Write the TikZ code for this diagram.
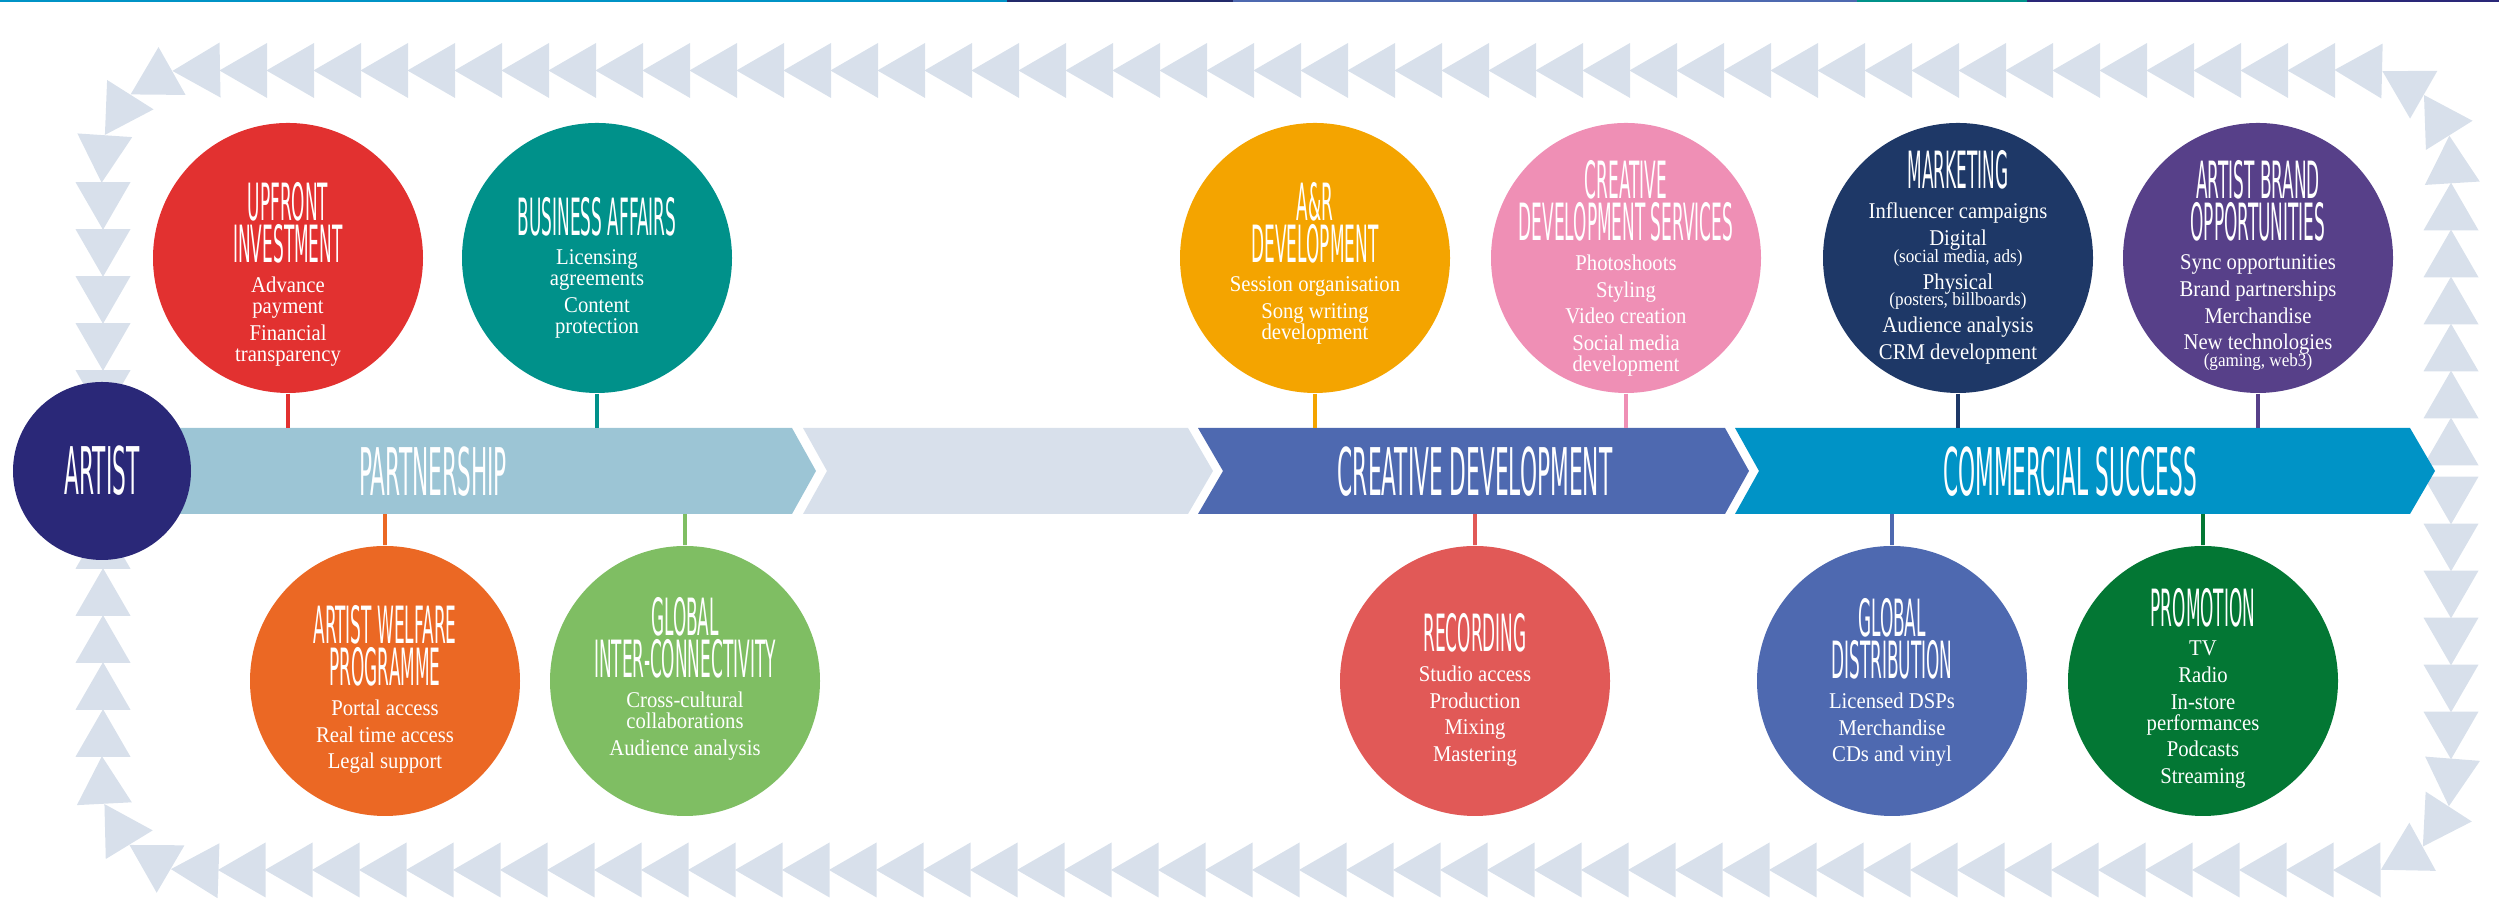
\documentclass[tikz,border=0pt]{standalone}
\usepackage{fontspec}
\setmainfont{Liberation Serif}[FakeStretch=0.92]
\newfontfamily\headfont{DejaVu Sans}[FakeStretch=0.33]
\usetikzlibrary{positioning,decorations.markings}

\definecolor{cArtist}{RGB}{42,40,120}
\definecolor{cPartner}{RGB}{156,197,213}
\definecolor{cPale}{RGB}{216,224,235}
\definecolor{cCreative}{RGB}{78,105,176}
\definecolor{cCommercial}{RGB}{0,147,198}
\definecolor{cRed}{RGB}{226,49,48}
\definecolor{cTeal}{RGB}{0,145,138}
\definecolor{cOrange}{RGB}{235,104,36}
\definecolor{cLime}{RGB}{127,190,99}
\definecolor{cAmber}{RGB}{244,164,0}
\definecolor{cPink}{RGB}{239,143,181}
\definecolor{cNavy}{RGB}{30,56,103}
\definecolor{cPurple}{RGB}{87,64,137}
\definecolor{cCoral}{RGB}{225,89,87}
\definecolor{cForest}{RGB}{3,119,52}
\definecolor{cDeep}{RGB}{35,42,107}
\definecolor{cSea}{RGB}{0,146,138}

\tikzset{
  disc/.style={circle, minimum size=2.7cm, inner sep=0pt},
  head/.style={text=white, align=center, inner sep=0pt, anchor=north,
    font=\headfont\fontsize{14.6}{11.9}\selectfont},
  items/.style={text=white, align=center, inner sep=0pt, node distance=0.12cm,
    font=\fontsize{6.4}{6}\selectfont},
  barlabel/.style={text=white, inner sep=0pt, font=\headfont\fontsize{18.7}{18}\selectfont},
  stalk/.style={line width=1.4pt},
  arrowrow/.style={decorate, decoration={markings,
    mark=between positions 0.235cm and 1 step 0.47cm with
    {\fill[cPale, sharp corners] (0.238,0) -- (-0.238,0.275) -- (-0.238,-0.275) -- cycle;}}}
}
\newcommand{\sm}[1]{{\fontsize{5.3}{5}\selectfont #1}}

\begin{document}
\begin{tikzpicture}
    \useasboundingbox (0,0) rectangle (24.99,8.99);

    % 顶部色条
    \fill[cCommercial] (0,8.97) rectangle (10.07,8.99);
    \fill[cDeep] (10.07,8.97) rectangle (12.33,8.99);
    \fill[cCreative] (12.33,8.97) rectangle (18.57,8.99);
    \fill[cSea] (18.57,8.97) rectangle (20.27,8.99);
    \fill[cArtist] (20.27,8.97) rectangle (24.99,8.99);

    % 三角形回路
    \path[arrowrow] (24.51,4.34) [rounded corners=0.95cm] -- (24.51,8.285) -- (1.03,8.285) -- (1.03,4.5);
    \path[arrowrow] (24.51,4.22) [rounded corners=0.95cm] -- (24.51,0.29) -- (1.03,0.29) -- (1.03,4.0);

    % 时间轴
    \fill[cPartner] (1.0,4.71) -- (7.92,4.71) -- (8.16,4.28) -- (7.92,3.85) -- (1.0,3.85) -- cycle;
    \fill[cPale] (8.03,4.71) -- (11.88,4.71) -- (12.13,4.28) -- (11.88,3.85) -- (8.03,3.85) -- (8.27,4.28) -- cycle;
    \fill[cCreative] (11.98,4.71) -- (17.25,4.71) -- (17.49,4.28) -- (17.25,3.85) -- (11.98,3.85) -- (12.23,4.28) -- cycle;
    \fill[cCommercial] (17.35,4.71) -- (24.10,4.71) -- (24.35,4.28) -- (24.10,3.85) -- (17.35,3.85) -- (17.59,4.28) -- cycle;
    \coordinate (bartop) at (0,4.71);
    \coordinate (barbot) at (0,3.85);

    \node[barlabel] (partnership) at (4.33,4.27) {PARTNERSHIP};
    \node[barlabel] (creative) at (14.75,4.27) {CREATIVE DEVELOPMENT};
    \node[barlabel] (commercial) at (20.70,4.27) {COMMERCIAL SUCCESS};

    % 艺人
    \node[disc, barlabel, fill=cArtist, minimum size=1.78cm] (artist) at (1.02,4.28) {ARTIST};

    % 上方圆
    \node[disc, fill=cRed] (upfront) at (2.88,6.41) {};
    \node[disc, fill=cTeal] (business) at (5.97,6.41) {};
    \node[disc, fill=cAmber] (anr) at (13.15,6.41) {};
    \node[disc, fill=cPink] (services) at (16.26,6.41) {};
    \node[disc, fill=cNavy] (marketing) at (19.58,6.41) {};
    \node[disc, fill=cPurple] (brand) at (22.58,6.41) {};

    % 下方圆
    \node[disc, fill=cOrange] (welfare) at (3.85,2.18) {};
    \node[disc, fill=cLime] (global) at (6.85,2.18) {};
    \node[disc, fill=cCoral] (recording) at (14.75,2.18) {};
    \node[disc, fill=cCreative] (distribution) at (18.92,2.18) {};
    \node[disc, fill=cForest] (promotion) at (22.03,2.18) {};

    % 连接线
    \draw[stalk, cRed] (upfront.south) -- (upfront.south |- bartop);
    \draw[stalk, cTeal] (business.south) -- (business.south |- bartop);
    \draw[stalk, cAmber] (anr.south) -- (anr.south |- bartop);
    \draw[stalk, cPink] (services.south) -- (services.south |- bartop);
    \draw[stalk, cNavy] (marketing.south) -- (marketing.south |- bartop);
    \draw[stalk, cPurple] (brand.south) -- (brand.south |- bartop);
    \draw[stalk, cOrange] (welfare.north) -- (welfare.north |- barbot);
    \draw[stalk, cLime] (global.north) -- (global.north |- barbot);
    \draw[stalk, cCoral] (recording.north) -- (recording.north |- barbot);
    \draw[stalk, cCreative] (distribution.north) -- (distribution.north |- barbot);
    \draw[stalk, cForest] (promotion.north) -- (promotion.north |- barbot);

    % 文字
    \node[head] (upfront-h) at (2.88,7.17) {UPFRONT\\INVESTMENT};
    \node[items, below=of upfront-h] (upfront-l) {Advance\\payment\\[1.6pt]Financial\\transparency};

    \node[head] (business-h) at (5.97,7.02) {BUSINESS AFFAIRS};
    \node[items, below=of business-h] (business-l) {Licensing\\agreements\\[1.6pt]Content\\protection};

    \node[head] (anr-h) at (13.15,7.17) {A\&R\\DEVELOPMENT};
    \node[items, below=of anr-h] (anr-l) {Session organisation\\[1.6pt]Song writing\\development};

    \node[head] (services-h) at (16.26,7.39) {CREATIVE\\DEVELOPMENT SERVICES};
    \node[items, below=of services-h] (services-l) {Photoshoots\\[1.6pt]Styling\\[1.6pt]Video creation\\[1.6pt]Social media\\development};

    \node[head] (marketing-h) at (19.58,7.49) {MARKETING};
    \node[items, below=of marketing-h] (marketing-l) {Influencer campaigns\\[1.6pt]Digital\\[-1.2pt]\sm{(social media, ads)}\\[1.6pt]Physical\\[-1.2pt]\sm{(posters, billboards)}\\[1.6pt]Audience analysis\\[1.6pt]CRM development};

    \node[head] (brand-h) at (22.58,7.39) {ARTIST BRAND\\OPPORTUNITIES};
    \node[items, below=of brand-h] (brand-l) {Sync opportunities\\[1.6pt]Brand partnerships\\[1.6pt]Merchandise\\[1.6pt]New technologies\\[-1.2pt]\sm{(gaming, web3)}};

    \node[head] (welfare-h) at (3.85,2.94) {ARTIST WELFARE\\PROGRAMME};
    \node[items, below=of welfare-h] (welfare-l) {Portal access\\[1.6pt]Real time access\\[1.6pt]Legal support};

    \node[head] (global-h) at (6.85,3.02) {GLOBAL\\INTER-CONNECTIVITY};
    \node[items, below=of global-h] (global-l) {Cross-cultural\\collaborations\\[1.6pt]Audience analysis};

    \node[head] (recording-h) at (14.75,2.86) {RECORDING};
    \node[items, below=of recording-h] (recording-l) {Studio access\\[1.6pt]Production\\[1.6pt]Mixing\\[1.6pt]Mastering};

    \node[head] (distribution-h) at (18.92,3.01) {GLOBAL\\DISTRIBUTION};
    \node[items, below=of distribution-h] (distribution-l) {Licensed DSPs\\[1.6pt]Merchandise\\[1.6pt]CDs and vinyl};

    \node[head] (promotion-h) at (22.03,3.11) {PROMOTION};
    \node[items, below=of promotion-h] (promotion-l) {TV\\[1.6pt]Radio\\[1.6pt]In-store\\performances\\[1.6pt]Podcasts\\[1.6pt]Streaming};
\end{tikzpicture}
\end{document}
